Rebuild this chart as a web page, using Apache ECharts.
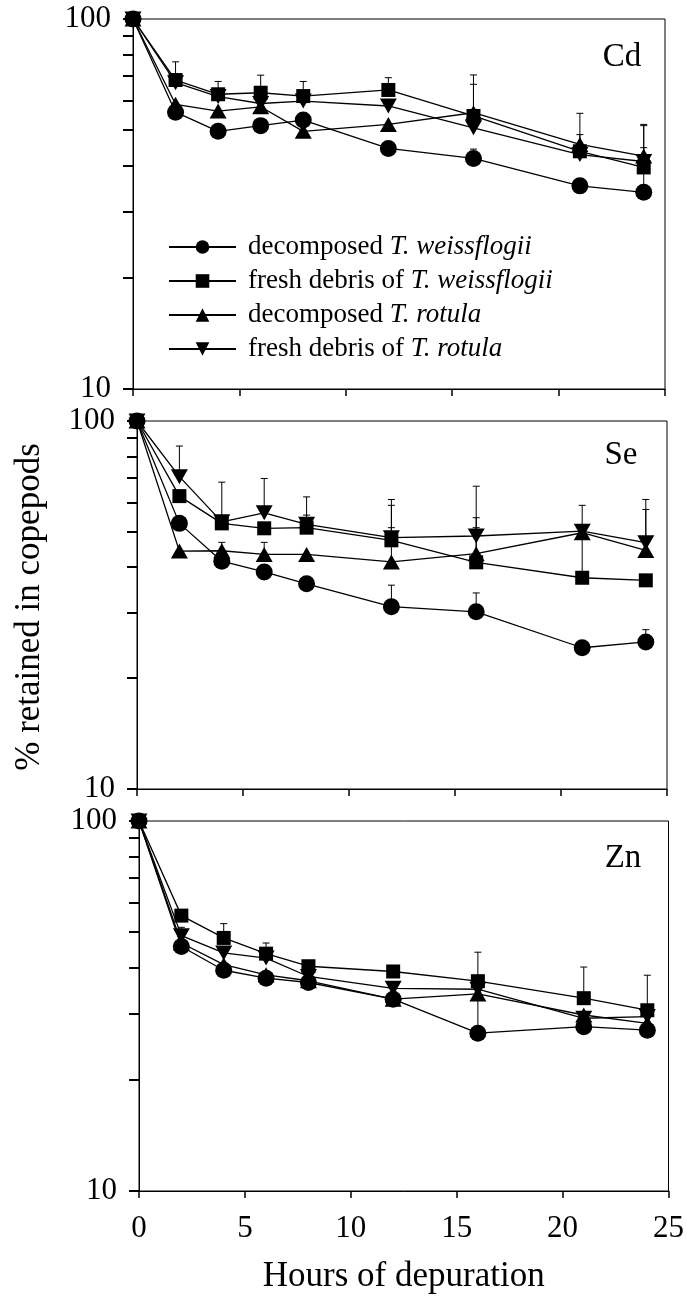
<!DOCTYPE html>
<html><head><meta charset="utf-8">
<script src="https://cdn.jsdelivr.net/npm/echarts@6/dist/echarts.min.js"></script>
<style>html,body{margin:0;padding:0;background:#fff}#c{width:687px;height:1299px}</style>
</head><body><div id="c"></div>
<script>
// ---- data ----
const hours = [0, 2, 4, 6, 8, 12, 16, 21, 24];
const seriesNames = ['decomposed T. weissflogii', 'fresh debris of T. weissflogii', 'decomposed T. rotula', 'fresh debris of T. rotula'];
const panelNames = ['Cd', 'Se', 'Zn'];
const xTicks = [0, 5, 10, 15, 20, 25];
const yLabelValues = [10, 100];
const yTickValues = [10, 20, 30, 40, 50, 60, 70, 80, 90, 100];

const cdDecompTw = [100, 56, 49.7, 51.5, 53.3, 44.7, 42, 35.4, 34];
const cdFreshTw  = [100, 68.4, 62.6, 63.2, 61.9, 64.3, 54.7, 43.9, 39.7];
const cdDecompTr = [100, 58.8, 56.4, 57.9, 49.7, 51.9, 55.8, 45.8, 42.6];
const cdFreshTr  = [100, 67.3, 61.7, 59.1, 60, 58.2, 50.8, 43, 41.2];

const seDecompTw = [100, 52.7, 41.6, 38.9, 36.1, 31.3, 30.3, 24.2, 25.1];
const seFreshTw  = [100, 62.5, 52.7, 51.1, 51.3, 47.4, 41.3, 37.5, 36.9];
const seDecompTr = [100, 44.3, 44.4, 43.4, 43.4, 41.4, 43.6, 49.7, 44.5];
const seFreshTr  = [100, 70.6, 53.2, 56.3, 52.4, 48.2, 48.7, 50.2, 46.7];

const znDecompTw = [100, 45.8, 39.5, 37.6, 36.6, 33, 26.7, 27.8, 27.2];
const znFreshTw  = [100, 55.5, 48.3, 43.8, 40.5, 39.2, 36.9, 33.2, 30.8];
const znDecompTr = [100, 46.8, 40.9, 38.4, 37, 33, 34.1, 29.9, 28.4];
const znFreshTr  = [100, 49, 44, 42.6, 38, 35.3, 35.1, 29.3, 29.6];

// error bars: [hour, mean, mean + error]
const cdErr = [[2, 68.4, 76.6], [4, 62.6, 67.8], [6, 63.2, 70.5], [8, 61.9, 67.8], [12, 64.3, 69.4],
  [16, 55.8, 70.6], [16, 54.7, 66.6], [16, 42, 44.5], [21, 45.8, 55.6], [21, 43, 48.7],
  [24, 42.6, 51.9], [24, 41.2, 51.5], [24, 34, 44.9]];
const seErr = [[2, 70.6, 85.5], [4, 52.7, 68.2], [4, 44.4, 46.8], [6, 56.3, 69.8], [6, 43.4, 46.8],
  [8, 51.3, 62.2], [8, 52.4, 55.5], [12, 48.2, 61.2], [12, 47.4, 59], [12, 41.4, 51.3],
  [16, 48.7, 66.5], [16, 43.6, 54.6], [16, 41.3, 51.3], [21, 50.2, 59], [21, 37.5, 48],
  [24, 46.7, 61.2], [24, 44.5, 57.5], [12, 31.3, 35.8], [16, 30.3, 34.1], [24, 25.1, 27.1]];
const znErr = [[2, 49, 51.6], [4, 48.3, 52.8], [6, 43.8, 46.8], [16, 26.7, 44.2], [21, 33.2, 40.3], [24, 30.8, 38.3]];

// ---- chart ----
const FONT = 'Liberation Serif';
const panels = [
  [cdDecompTw, cdFreshTw, cdDecompTr, cdFreshTr],
  [seDecompTw, seFreshTw, seDecompTr, seFreshTr],
  [znDecompTw, znFreshTw, znDecompTr, znFreshTr]
];
const errs = [cdErr, seErr, znErr];
const grids = [
  {left: 133, top: 19, width: 532, height: 370},
  {left: 137, top: 421, width: 530, height: 368},
  {left: 139, top: 821, width: 530, height: 370}
];
const labelPos = [[622, 57], [621, 455], [623, 858]];
const symbols = ['circle', 'rect', 'triangle', 'path://M0,0 L10,0 L5,9 Z'];
const symSizes = [17, 14, [17, 15], [17, 15]];

const xAxes = grids.map((g, i) => ({
  type: 'value', gridIndex: i, min: 0, max: 25, interval: 5,
  axisLine: {show: true, onZero: false, lineStyle: {color: '#000', width: 1}},
  axisTick: {show: true, inside: false, length: 7, lineStyle: {color: '#000', width: 1.5}},
  axisLabel: {show: i === 2, fontFamily: FONT, fontSize: 31, color: '#000', margin: 22},
  splitLine: {show: false},
  name: i === 2 ? 'Hours of depuration' : '', nameLocation: 'middle', nameGap: 68,
  nameTextStyle: {fontFamily: FONT, fontSize: 35, color: '#000'}
}));
const yAxes = grids.map((g, i) => ({
  type: 'log', logBase: 10, gridIndex: i, min: 10, max: 100,
  axisLine: {show: true, lineStyle: {color: '#000', width: 1}},
  axisTick: {show: false},
  axisLabel: {fontFamily: FONT, fontSize: 31, color: '#000', margin: 22},
  splitLine: {show: false}
}));

const series = [];
panels.forEach((vals, p) => {
  vals.forEach((arr, k) => {
    series.push({
      type: 'line', name: seriesNames[k], xAxisIndex: p, yAxisIndex: p,
      data: hours.map((h, j) => [h, arr[j]]),
      symbol: symbols[k], symbolSize: symSizes[k], showAllSymbol: true,
      lineStyle: {color: '#000', width: 1.3}, itemStyle: {color: '#000'},
      clip: false, animation: false, z: 3
    });
  });
  // error bars
  series.push({
    type: 'custom', xAxisIndex: p, yAxisIndex: p, clip: false, animation: false, z: 2,
    data: errs[p], encode: {x: 0, y: [1, 2]},
    renderItem: function (params, api) {
      const x = api.value(0), lo = api.value(1), hi = api.value(2);
      const a = api.coord([x, lo]), b = api.coord([x, hi]);
      return {type: 'group', children: [
        {type: 'line', shape: {x1: a[0], y1: a[1], x2: b[0], y2: b[1]}, style: {stroke: '#000', lineWidth: 1}},
        {type: 'line', shape: {x1: b[0] - 3.5, y1: b[1], x2: b[0] + 3.5, y2: b[1]}, style: {stroke: '#000', lineWidth: 1}}
      ]};
    }
  });
});

const baseGraphics = [
  ...panelNames.map((t, i) => ({
    type: 'text', x: labelPos[i][0], y: labelPos[i][1],
    style: {text: t, font: '33px "' + FONT + '"', fill: '#000', align: 'center', verticalAlign: 'middle'}
  })),
  {type: 'text', x: 30, y: 607, rotation: Math.PI / 2,
    style: {text: '% retained in copepods', font: '35px "' + FONT + '"', fill: '#000', align: 'center', verticalAlign: 'middle'}}
];

const option = {
  backgroundColor: '#fff',
  animation: false,
  grid: grids.map(g => Object.assign({show: true, borderColor: '#000', borderWidth: 1, backgroundColor: 'transparent'}, g)),
  xAxis: xAxes,
  yAxis: yAxes,
  legend: {
    left: 163, top: 225, orient: 'vertical',
    itemWidth: 67, itemHeight: 17, itemGap: 0,
    data: seriesNames,
    formatter: function (name) {
      const m = name.match(/^(.*?)(T\. \w+)$/);
      return m ? m[1] + '{i|' + m[2] + '}' : name;
    },
    textStyle: {fontFamily: FONT, fontSize: 27, color: '#000', lineHeight: 34, padding: [0, 0, 0, 7],
      rich: {i: {fontFamily: FONT, fontSize: 27, fontStyle: 'italic', color: '#000', lineHeight: 34}}}
  },
  graphic: baseGraphics,
  series: series
};
const chart = echarts.init(document.getElementById('c'), null, {renderer: 'canvas'});
chart.setOption(option);

// log-axis ticks (10, 20 ... 100), placed through each grid's own scales
const tickGraphics = [];
grids.forEach((g, p) => {
  yTickValues.forEach(v => {
    const c = chart.convertToPixel({xAxisIndex: p, yAxisIndex: p}, [0, v]);
    if (c && isFinite(c[0]) && isFinite(c[1])) {
      const y = Math.round(c[1]);
      tickGraphics.push({type: 'rect', z: 10, shape: {x: c[0] - 10, y: y - 1, width: 10, height: 2},
        style: {fill: '#000'}});
    }
  });
});
chart.setOption({graphic: baseGraphics.concat(tickGraphics)});
</script>
</body></html>
